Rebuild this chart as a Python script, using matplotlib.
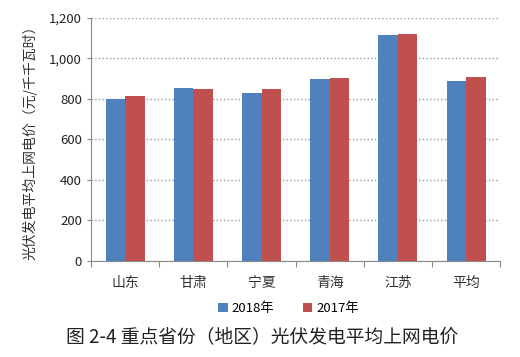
import numpy as np
import matplotlib.pyplot as plt
from matplotlib.ticker import FuncFormatter

plt.rcParams['font.family'] = ['Noto Sans CJK SC', 'DejaVu Sans']

# 数据
provinces = ['山东', '甘肃', '宁夏', '青海', '江苏', '平均']
price_2018 = [798, 854, 830, 897, 1113, 889]
price_2017 = [813, 849, 849, 902, 1118, 907]

fig = plt.figure(figsize=(5.2, 3.57), dpi=100)
ax = fig.add_axes([0.175, 0.269, 0.787, 0.681])

x = np.arange(len(provinces))
w = 0.285
ax.bar(x - w / 2, price_2018, w, color='#4F81BD', label='2018年', zorder=3)
ax.bar(x + w / 2, price_2017, w, color='#C0504D', label='2017年', zorder=3)

ax.set_xlim(-0.5, len(provinces) - 0.5)
ax.set_ylim(0, 1200)
ax.set_yticks(range(0, 1201, 200))
ax.yaxis.set_major_formatter(FuncFormatter(lambda v, p: f'{int(v):,}'))
ax.yaxis.grid(True, linestyle=':', color='#999999', linewidth=1, zorder=0)

# x轴刻度在类别之间
ax.set_xticks(np.arange(-0.5, len(provinces), 1.0))
ax.set_xticklabels([])
ax.set_xticks(x, minor=True)
ax.set_xticklabels(provinces, minor=True, fontsize=10, color='#333333')
ax.tick_params(axis='x', which='minor', length=0, pad=11)
ax.tick_params(axis='x', which='major', length=4, color='#888888')
ax.tick_params(axis='y', length=3, color='#888888', labelsize=9.5, labelcolor='#222222')

for s in ['top', 'right']:
    ax.spines[s].set_visible(False)
for s in ['left', 'bottom']:
    ax.spines[s].set_color('#888888')

ax.set_ylabel('光伏发电平均上网电价（元/千千瓦时）', fontsize=10, color='#333333', labelpad=8)

fig.legend(loc='center', bbox_to_anchor=(0.555, 0.135), ncol=2, frameon=False,
           fontsize=9.5, handlelength=0.7, handleheight=0.7, columnspacing=2.2,
           handletextpad=0.3)

fig.text(0.505, 0.055, '图 2-4 重点省份（地区）光伏发电平均上网电价', ha='center', va='center',
         fontsize=13.5, color='#222222')

fig.savefig('out.png', dpi=100)
